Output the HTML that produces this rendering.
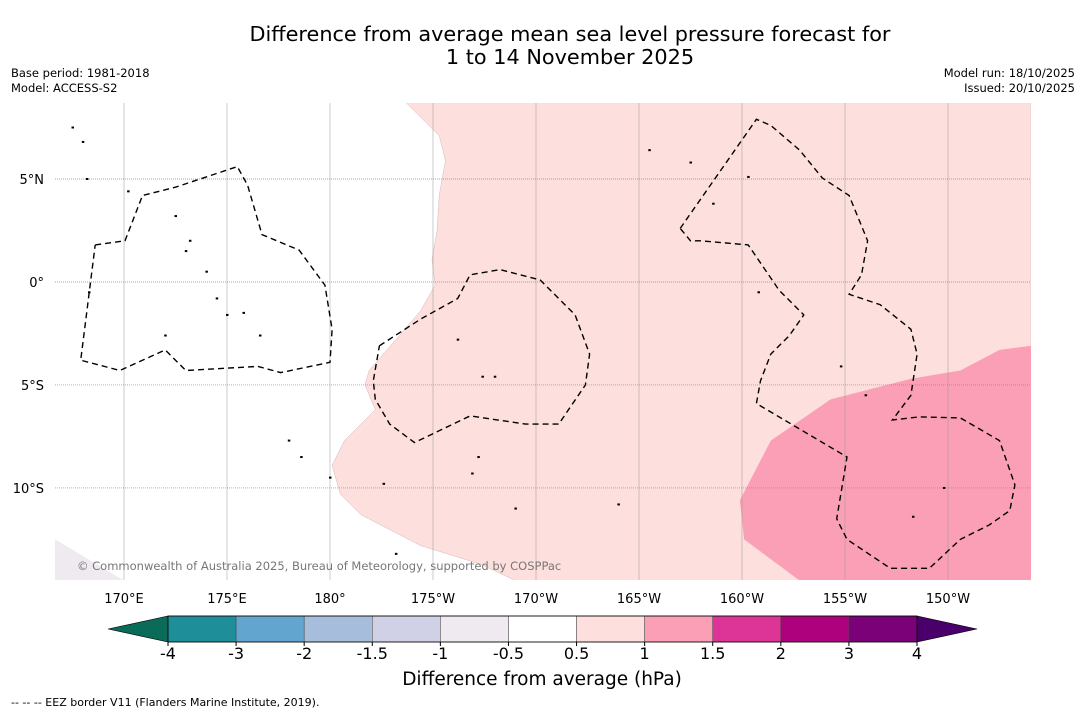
<!DOCTYPE html>
<html><head><meta charset="utf-8">
<style>
body{margin:0;background:#fff;width:1085px;height:713px;overflow:hidden;font-family:"DejaVu Sans","Liberation Sans",sans-serif;}
svg text{font-family:"DejaVu Sans","Liberation Sans",sans-serif;}
</style></head>
<body>
<svg id="chart" width="1085" height="713" viewBox="0 0 1085 713" xmlns="http://www.w3.org/2000/svg">
<text x="570" y="41" font-size="20.8" text-anchor="middle" fill="#000">Difference from average mean sea level pressure forecast for</text>
<text x="570" y="64" font-size="20.8" text-anchor="middle" fill="#000">1 to 14 November 2025</text>
<text x="11" y="77" font-size="11.5">Base period: 1981-2018</text>
<text x="11" y="92" font-size="11.5">Model: ACCESS-S2</text>
<text x="1075" y="77" font-size="11.5" text-anchor="end">Model run: 18/10/2025</text>
<text x="1075" y="92" font-size="11.5" text-anchor="end">Issued: 20/10/2025</text>
<g id="map"></g>
<g id="cbar"></g>
<text x="542" y="685" font-size="18.5" text-anchor="middle">Difference from average (hPa)</text>
<text x="11" y="706" font-size="11">--  --  -- EEZ border V11 (Flanders Marine Institute, 2019).</text>
</svg>
<script>
// ---- data ----
const lonTicks=[170,175,180,185,190,195,200,205,210];
const lonLabels=["170°E","175°E","180°","175°W","170°W","165°W","160°W","155°W","150°W"];
const latTicks=[5,0,-5,-10];
const latLabels=["5°N","0°","5°S","10°S"];
const cbLevels=[-4,-3,-2,-1.5,-1,-0.5,0.5,1,1.5,2,3,4];
const cbColors=["#1e8e99","#62a6cf","#a6bddb","#d0d1e6","#efe9f0","#ffffff","#fde0dd","#fa9fb5","#dd3497","#ae017e","#7a0177"];
const cbUnder="#0a6b58", cbOver="#49006a";
const lightPinkLon=[183.7,185.3,185.6,185.3,185.2,184.95,185.1,184.4,183.2,181.9,181.7,182.2,180.7,180.1,180.5,181.5,184.4,187.3,189.0,214.03,214.03];
const lightPinkLat=[8.7,7.1,5.9,4.2,2.5,1.1,-0.15,-1.4,-2.8,-4.3,-5.0,-6.2,-7.7,-8.9,-10.3,-11.3,-12.8,-13.7,-14.5,-14.5,8.7];
const pinkLon=[202.8,200.1,199.9,201.4,204.3,208.2,210.6,212.5,214.03,214.03];
const pinkLat=[-14.5,-12.5,-10.6,-7.7,-5.7,-4.7,-4.3,-3.3,-3.1,-14.5];
const lilacLon=[166.65,170.0,166.65];
const lilacLat=[-12.5,-14.5,-14.5];
const eezA_lon=[168.6,170.05,170.9,172.5,175.5,176.0,176.7,178.5,179.75,180.1,180.0,177.6,176.5,173.0,172.0,169.8,167.9,168.6];
const eezA_lat=[1.8,2.0,4.2,4.6,5.6,4.7,2.3,1.55,-0.15,-2.3,-3.9,-4.4,-4.1,-4.3,-3.3,-4.3,-3.8,1.8];
const eezB_lon=[182.4,184.4,186.2,186.8,188.25,190.2,191.9,192.6,192.4,191.1,189.5,186.8,184.1,182.9,182.2,182.1,182.4];
const eezB_lat=[-3.1,-1.8,-0.8,0.35,0.6,0.1,-1.6,-3.5,-5.0,-6.9,-6.9,-6.5,-7.8,-6.9,-5.7,-4.8,-3.1];
const eezC_lon=[197.0,200.7,201.4,202.8,203.9,205.2,206.1,205.8,205.2,206.7,208.2,208.5,208.2,207.3,208.6,210.6,212.5,213.25,213.0,212.0,210.6,209.1,207.2,205.1,204.6,205.1,200.7,200.9,201.4,202.3,203.0,201.8,200.3,198.0,197.5,197.0];
const eezC_lat=[2.6,7.9,7.6,6.4,5.05,4.2,2.0,0.35,-0.6,-1.1,-2.3,-3.5,-5.5,-6.7,-6.55,-6.6,-7.7,-9.85,-11.1,-11.8,-12.5,-13.9,-13.9,-12.5,-11.5,-8.5,-5.9,-4.8,-3.5,-2.6,-1.6,-0.4,1.8,2.0,2.0,2.6];
const islandLon=[167.5,168.0,168.2,170.2,172.5,173.2,173.0,174.0,174.5,175.0,175.8,176.6,178.0,178.6,180.0,182.6,183.2,186.2,187.4,188.0,187.2,189.0,194.0,195.5,198.6,200.3,200.8,204.8,206.0,209.8,197.5,208.3,172.0,168.3,186.9];
const islandLat=[7.5,6.8,5.0,4.4,3.2,2.0,1.5,0.5,-0.8,-1.6,-1.5,-2.6,-7.7,-8.5,-9.5,-9.8,-13.2,-2.8,-4.6,-4.6,-8.5,-11.0,-10.8,6.4,3.8,5.1,-0.5,-4.1,-5.5,-10.0,5.8,-11.4,-2.6,-0.5,-9.3];

// ---- axes ----
const X0=55,X1=1031,Y0=103,Y1=580;
const lonMin=166.65,lonMax=214.03,latMin=-14.47,latMax=8.69;
const xs=l=>X0+(l-lonMin)/(lonMax-lonMin)*(X1-X0);
const ys=l=>Y0+(latMax-l)/(latMax-latMin)*(Y1-Y0);
const NS="http://www.w3.org/2000/svg";
const map=document.getElementById('map');
function mk(tag,attrs,parent){const e=document.createElementNS(NS,tag);for(const k in attrs)e.setAttribute(k,attrs[k]);parent.appendChild(e);return e;}
function pts(lo,la){return lo.map((v,i)=>xs(v).toFixed(1)+','+ys(la[i]).toFixed(1)).join(' ');}

const clip=mk('clipPath',{id:'mapclip'},map);mk('rect',{x:X0,y:Y0,width:X1-X0,height:Y1-Y0},clip);
const g=mk('g',{'clip-path':'url(#mapclip)'},map);
let p;
p=mk('polygon',{points:pts(lightPinkLon,lightPinkLat),fill:cbColors[6],stroke:'#caa',"stroke-width":0.4},g);


p=mk('polygon',{points:pts(pinkLon,pinkLat),fill:cbColors[7]},g);


p=mk('polygon',{points:pts(lilacLon,lilacLat),fill:cbColors[4]},g);


lonTicks.forEach((t,i)=>{
  const l=mk('line',{x1:xs(t),x2:xs(t),y1:Y0,y2:Y1,stroke:'#999',"stroke-width":0.5},g);
  
  
  const tx=mk('text',{x:xs(t),y:603,"font-size":13,"text-anchor":"middle"},map);tx.textContent=lonLabels[i];
  
  
});
latTicks.forEach((t,i)=>{
  const l=mk('line',{x1:X0,x2:X1,y1:ys(t),y2:ys(t),stroke:'#888',"stroke-width":0.7,"stroke-dasharray":"1,1"},g);
  
  
  const tx=mk('text',{x:44,y:ys(t)+5,"font-size":13,"text-anchor":"end"},map);tx.textContent=latLabels[i];
  
  
});
islandLon.forEach((v,i)=>{
  const c=mk('rect',{x:xs(v)-1,y:ys(islandLat[i])-1,width:2.5,height:2,fill:'#000'},g);
  
  
});
[[eezA_lon,eezA_lat,'eez-border-tuvalu-kiribati'],[eezB_lon,eezB_lat,'eez-border-tokelau'],[eezC_lon,eezC_lat,'eez-border-line-cook-islands']].forEach(d=>{
  const l=mk('polyline',{points:pts(d[0],d[1]),fill:'none',stroke:'#000',"stroke-width":1.4,"stroke-dasharray":"6,4"},g);
  
  
});
const cr=mk('text',{x:77,y:570,"font-size":11.5,fill:'#777'},map);cr.textContent="© Commonwealth of Australia 2025, Bureau of Meteorology, supported by COSPPac";



// ---- colorbar ----
const cb=document.getElementById('cbar');
const CB0=168,CB1=917,CBY=616,CBH=26;
const segW=(CB1-CB0)/cbColors.length;
const cx=i=>CB0+i*segW;
let t=mk('polygon',{points:`108,${CBY+CBH/2} ${CB0},${CBY} ${CB0},${CBY+CBH}`,fill:cbUnder,stroke:'#000',"stroke-width":0.6},cb);


t=mk('polygon',{points:`977,${CBY+CBH/2} ${CB1},${CBY} ${CB1},${CBY+CBH}`,fill:cbOver,stroke:'#000',"stroke-width":0.6},cb);


cbColors.forEach((c,i)=>{
  const r=mk('rect',{x:cx(i),y:CBY,width:segW,height:CBH,fill:c,stroke:'#444',"stroke-width":0.5},cb);
  
  
});
mk('rect',{x:CB0,y:CBY,width:CB1-CB0,height:CBH,fill:'none',stroke:'#000',"stroke-width":0.8},cb);
cbLevels.forEach((v,i)=>{
  mk('line',{x1:cx(i),x2:cx(i),y1:CBY+CBH,y2:CBY+CBH+4,stroke:'#000'},cb);
  const tx=mk('text',{x:cx(i),y:659,"font-size":16,"text-anchor":"middle"},cb);tx.textContent=String(v);
  
  
});
</script>
</body></html>
